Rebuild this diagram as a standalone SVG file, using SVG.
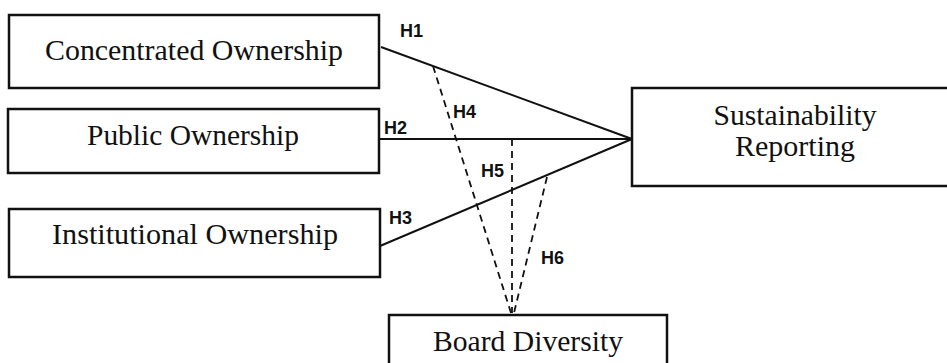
<svg xmlns="http://www.w3.org/2000/svg" width="947" height="363" viewBox="0 0 947 363">
<style>
.box{fill:#fff;stroke:#111;stroke-width:2.5}
.t{font-family:"Liberation Serif","Times New Roman",serif;font-size:29px;fill:#111;text-anchor:middle}
.h{font-family:"Liberation Sans",Arial,sans-serif;font-size:18px;font-weight:bold;fill:#111}
.ln{stroke:#111;stroke-width:2;fill:none}
.ds{stroke:#111;stroke-width:1.8;fill:none;stroke-dasharray:7,5}
</style>
<rect width="947" height="363" fill="#fff"/>
<g id="connectors">
<line class="ln" x1="381" y1="47" x2="632" y2="139"/>
<line class="ln" x1="379" y1="139" x2="632" y2="139"/>
<line class="ln" x1="380" y1="246" x2="632" y2="139"/>
<line class="ds" x1="433" y1="66" x2="511" y2="313"/>
<line class="ds" x1="512" y1="139" x2="512" y2="313"/>
<line class="ds" x1="547" y1="177" x2="513" y2="317"/>
<text class="h" x="400" y="37">H1</text>
<text class="h" x="384" y="134">H2</text>
<text class="h" x="389" y="224">H3</text>
<text class="h" x="453" y="118">H4</text>
<text class="h" x="481" y="177">H5</text>
<text class="h" x="541" y="264">H6</text>
</g>
<g id="concentrated">
<rect class="box" x="9" y="15" width="370" height="73"/>
<text class="t" x="194" y="60" textLength="298" lengthAdjust="spacingAndGlyphs">Concentrated Ownership</text>
</g>
<g id="public">
<rect class="box" x="8" y="109" width="371" height="64"/>
<text class="t" x="193" y="145" textLength="212" lengthAdjust="spacingAndGlyphs">Public Ownership</text>
</g>
<g id="institutional">
<rect class="box" x="9" y="209" width="371" height="68"/>
<text class="t" x="195" y="244" textLength="286" lengthAdjust="spacingAndGlyphs">Institutional Ownership</text>
</g>
<g id="sustainability">
<rect class="box" x="632" y="88" width="330" height="98"/>
<text class="t" x="795" y="125" textLength="163" lengthAdjust="spacingAndGlyphs">Sustainability</text>
<text class="t" x="795" y="156" textLength="120" lengthAdjust="spacingAndGlyphs">Reporting</text>
</g>
<g id="board">
<rect class="box" x="389" y="315" width="278" height="60"/>
<text class="t" x="528" y="351" textLength="190" lengthAdjust="spacingAndGlyphs">Board Diversity</text>
</g>
</svg>
